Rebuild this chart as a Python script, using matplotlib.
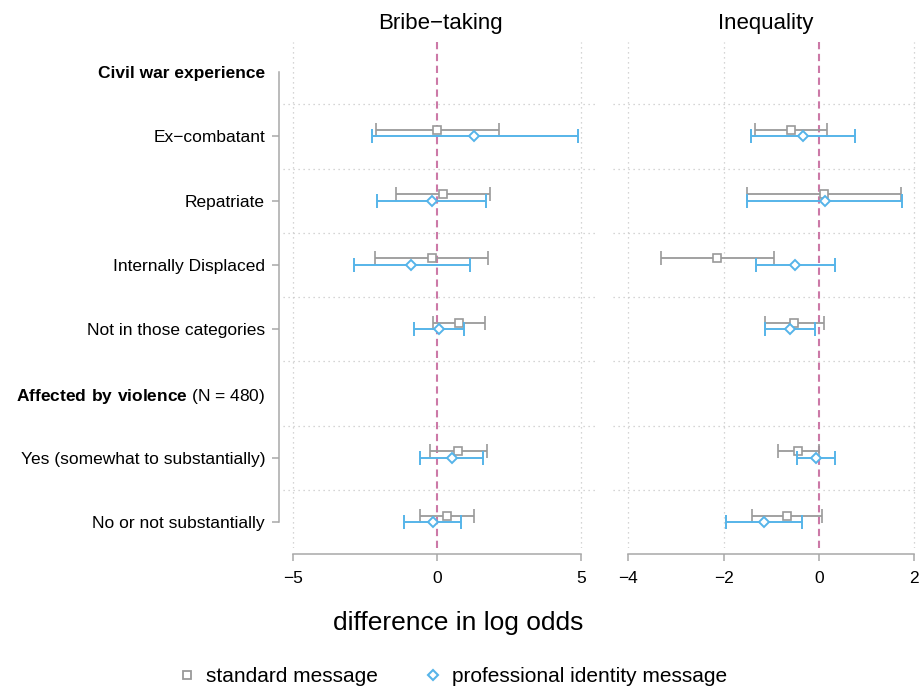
import numpy as np
import matplotlib
matplotlib.use("Agg")
import matplotlib.pyplot as plt
from matplotlib.lines import Line2D

plt.rcParams['font.family'] = ['Liberation Sans', 'DejaVu Sans']
plt.rcParams['mathtext.fontset'] = 'custom'
plt.rcParams['mathtext.rm'] = 'Liberation Sans'
plt.rcParams['mathtext.bf'] = 'Liberation Sans:bold'

# ---- data ----
row_labels = ["Civil war experience", "Ex\u2212combatant", "Repatriate", "Internally Displaced",
              "Not in those categories",
              r"$\mathbf{Affected\ by\ violence}$ (N = 480)",
              "Yes (somewhat to substantially)", "No or not substantially"]
header_rows = [0, 5]
cat_rows = [1, 2, 3, 4, 6, 7]

panels = ["Bribe\u2212taking", "Inequality"]

# Bribe-taking
bribe_std_est = [0.01, 0.22, -0.19, 0.77, 0.73, 0.34]
bribe_std_lo = [-2.13, -1.43, -2.15, -0.14, -0.25, -0.58]
bribe_std_hi = [2.14, 1.85, 1.78, 1.67, 1.72, 1.27]
bribe_pro_est = [1.30, -0.19, -0.90, 0.07, 0.52, -0.14]
bribe_pro_lo = [-2.26, -2.07, -2.90, -0.81, -0.58, -1.14]
bribe_pro_hi = [4.88, 1.70, 1.13, 0.94, 1.61, 0.84]

# Inequality
ineq_std_est = [-0.59, 0.10, -2.14, -0.52, -0.43, -0.67]
ineq_std_lo = [-1.34, -1.52, -3.32, -1.14, -0.85, -1.40]
ineq_std_hi = [0.17, 1.73, -0.95, 0.10, 0.01, 0.06]
ineq_pro_est = [-0.34, 0.13, -0.50, -0.61, -0.07, -1.16]
ineq_pro_lo = [-1.43, -1.51, -1.33, -1.14, -0.47, -1.94]
ineq_pro_hi = [0.76, 1.75, 0.34, -0.09, 0.34, -0.36]

bribe_ticks = [-5, 0, 5]
ineq_ticks = [-4, -2, 0, 2]

GREY = "#9a9a9a"
BLUE = "#56B4E9"
PINK = "#CC79A7"
AXC = "#a8a8a8"
GRIDC = "#c8c8c8"

W, H = 923, 689
fig = plt.figure(figsize=(W / 100, H / 100), dpi=100)

def fx(px):
    return px / W

def fy(py):
    return 1 - py / H

top, bot = 42, 548
ax1 = fig.add_axes([fx(283), fy(bot), fx(598 - 283), (bot - top) / H])
ax2 = fig.add_axes([fx(613), fy(bot), fx(918 - 613), (bot - top) / H])

ylim = (7.40, -0.467)

def draw(ax, title, ticks, xlim, s_est, s_lo, s_hi, p_est, p_lo, p_hi):
    ax.set_xlim(*xlim)
    ax.set_ylim(*ylim)
    # grid
    for t in ticks:
        if t != 0:
            ax.axvline(t, color=GRIDC, lw=0.9, ls=(0, (1, 3)), zorder=0)
    for r in np.arange(0.5, 7, 1.0):
        ax.axhline(r, color=GRIDC, lw=0.9, ls=(0, (1, 3)), zorder=0)
    ax.axvline(0, color=PINK, lw=1.5, ls=(0, (3.5, 2.2)), zorder=1)
    ys = np.array(cat_rows, dtype=float)
    s_est = np.array(s_est); p_est = np.array(p_est)
    ax.errorbar(s_est, ys - 0.105,
                xerr=[s_est - np.array(s_lo), np.array(s_hi) - s_est],
                fmt='s', color=GREY, ms=5.8, mfc='white', mec=GREY, mew=1.2,
                elinewidth=1.3, capsize=5, capthick=1.3, zorder=3)
    ax.errorbar(p_est, ys,
                xerr=[p_est - np.array(p_lo), np.array(p_hi) - p_est],
                fmt='D', color=BLUE, ms=5.2, mfc='white', mec=BLUE, mew=1.4,
                elinewidth=1.4, capsize=5, capthick=1.4, zorder=4)
    ax.set_title(title, fontsize=16, pad=9)
    ax.set_xticks(ticks)
    ax.set_xticklabels([("\u2212%d" % -t) if t < 0 else str(t) for t in ticks])
    ax.tick_params(axis='x', labelsize=12.5, length=5, width=1.1, color=AXC, pad=7)
    for s in ['top', 'right']:
        ax.spines[s].set_visible(False)
    ax.spines['bottom'].set_position(('outward', 4.3))
    ax.spines['bottom'].set_bounds(ticks[0], ticks[-1])
    ax.spines['bottom'].set_color(AXC)
    ax.spines['bottom'].set_linewidth(1.1)

draw(ax1, panels[0], bribe_ticks, (-5.35, 5.59),
     bribe_std_est, bribe_std_lo, bribe_std_hi, bribe_pro_est, bribe_pro_lo, bribe_pro_hi)
draw(ax2, panels[1], ineq_ticks, (-4.32, 2.077),
     ineq_std_est, ineq_std_lo, ineq_std_hi, ineq_pro_est, ineq_pro_lo, ineq_pro_hi)

# y axis on left panel
ax1.set_yticks(range(len(row_labels)))
ax1.set_yticklabels(row_labels)
ax1.tick_params(axis='y', labelsize=12.5, length=5, width=1.1, color=AXC, pad=5)
ax1.spines['left'].set_position(('outward', 2.9))
ax1.spines['left'].set_bounds(0, 7)
ax1.spines['left'].set_color(AXC)
ax1.spines['left'].set_linewidth(1.1)
ax1.get_yticklabels()[0].set_fontweight('bold')
for i, tk in enumerate(ax1.yaxis.get_major_ticks()):
    if i in header_rows:
        tk.tick1line.set_visible(False)

ax2.spines['left'].set_visible(False)
ax2.set_yticks([])

fig.text(fx(458), fy(630), "difference in log odds", fontsize=19, ha='center', va='baseline')

handles = [
    Line2D([], [], ls='none', marker='s', ms=6, mfc='white', mec=GREY, mew=1.3),
    Line2D([], [], ls='none', marker='D', ms=5.4, mfc='white', mec=BLUE, mew=1.5),
]
fig.legend(handles, ["standard message", "professional identity message"],
           loc='center', bbox_to_anchor=(fx(452), fy(677)), ncol=2, frameon=False,
           fontsize=15, handletextpad=0.4, columnspacing=2.15, handlelength=1.0)

fig.savefig("out.png", dpi=100)
